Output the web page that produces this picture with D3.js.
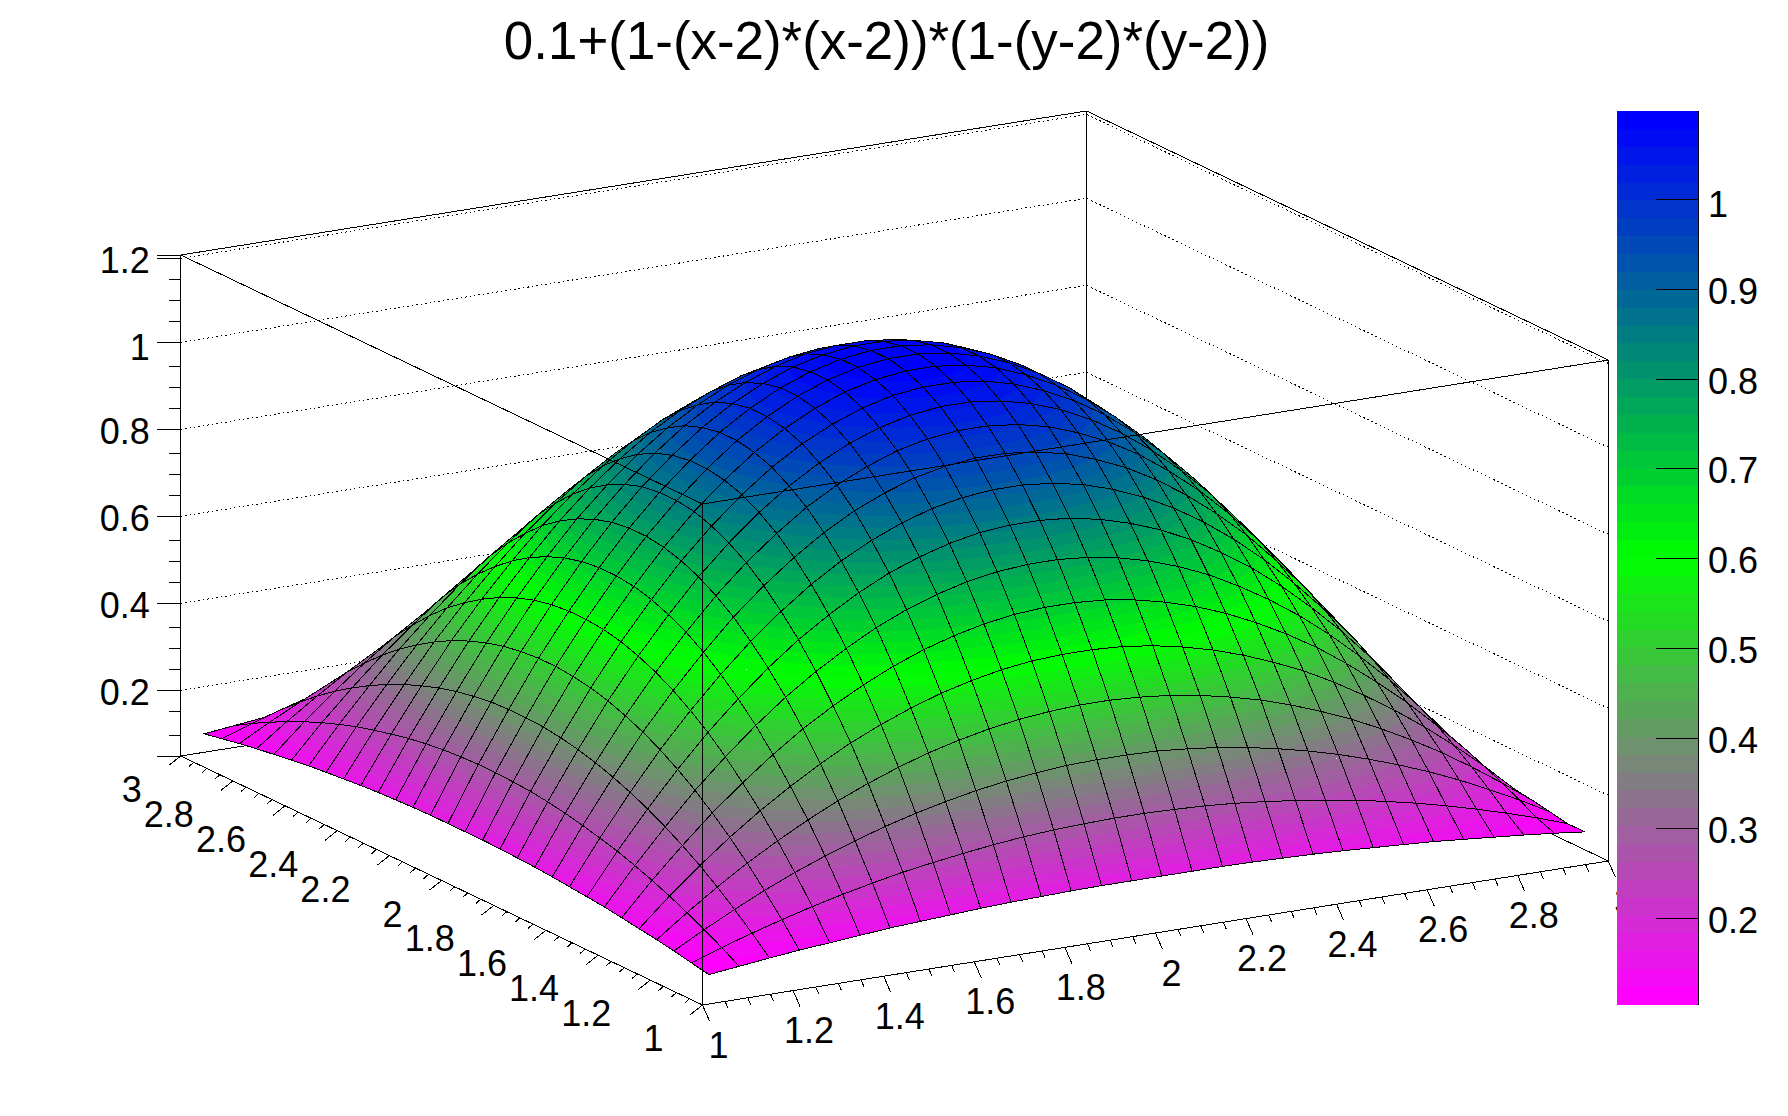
<!DOCTYPE html>
<html>
<head>
<meta charset="utf-8">
<script src="https://d3js.org/d3.v7.min.js"></script>
<style>
  html, body { margin: 0; padding: 0; background: #fff; }
  svg { display: block; }
  text { font-family: "Liberation Sans", Arial, sans-serif; fill: #000; }
</style>
</head>
<body>
<svg id="chart" width="1788" height="1116"></svg>
<script>
var titleText = "0.1+(1-(x-2)*(x-2))*(1-(y-2)*(y-2))";

// surface nodes, read per bin
var xCenters = [1.033, 1.1, 1.167, 1.233, 1.3, 1.367, 1.433, 1.5, 1.567, 1.633, 1.7, 1.767, 1.833, 1.9, 1.967,
                2.033, 2.1, 2.167, 2.233, 2.3, 2.367, 2.433, 2.5, 2.567, 2.633, 2.7, 2.767, 2.833, 2.9, 2.967];
var yCenters = xCenters.slice();

// one row per yCenters entry, one column per xCenters entry
var zRows = [
  [.104,.112,.120,.127,.133,.139,.145,.149,.153,.157,.160,.162,.164,.165,.165,.165,.165,.165,.164,.162,.160,.157,.153,.149,.145,.139,.133,.127,.120,.112],
  [.112,.136,.158,.178,.197,.214,.229,.243,.254,.264,.273,.280,.285,.288,.290,.290,.288,.285,.280,.273,.264,.254,.243,.229,.214,.197,.178,.158,.136,.112],
  [.120,.158,.193,.226,.256,.283,.307,.329,.348,.364,.378,.389,.397,.403,.405,.405,.403,.397,.389,.378,.364,.348,.329,.307,.283,.256,.226,.193,.158,.120],
  [.127,.178,.226,.270,.310,.347,.380,.409,.435,.457,.475,.490,.501,.508,.512,.512,.508,.501,.490,.475,.457,.435,.409,.380,.347,.310,.270,.226,.178,.127],
  [.133,.197,.256,.310,.360,.405,.446,.483,.514,.541,.564,.582,.596,.605,.609,.609,.605,.596,.582,.564,.541,.514,.483,.446,.405,.360,.310,.256,.197,.133],
  [.139,.214,.283,.347,.405,.459,.507,.549,.586,.618,.645,.666,.682,.693,.698,.698,.693,.682,.666,.645,.618,.586,.549,.507,.459,.405,.347,.283,.214,.139],
  [.145,.229,.307,.380,.446,.507,.561,.609,.651,.688,.718,.742,.760,.772,.778,.778,.772,.760,.742,.718,.688,.651,.609,.561,.507,.446,.380,.307,.229,.145],
  [.149,.243,.329,.409,.483,.549,.609,.663,.709,.749,.783,.809,.829,.843,.849,.849,.843,.829,.809,.783,.749,.709,.663,.609,.549,.483,.409,.329,.243,.149],
  [.153,.254,.348,.435,.514,.586,.651,.709,.760,.803,.839,.868,.890,.904,.911,.911,.904,.890,.868,.839,.803,.760,.709,.651,.586,.514,.435,.348,.254,.153],
  [.157,.264,.364,.457,.541,.618,.688,.749,.803,.849,.888,.918,.942,.957,.965,.965,.957,.942,.918,.888,.849,.803,.749,.688,.618,.541,.457,.364,.264,.157],
  [.160,.273,.378,.475,.564,.645,.718,.783,.839,.888,.928,.960,.985,1.001,1.009,1.009,1.001,.985,.960,.928,.888,.839,.783,.718,.645,.564,.475,.378,.273,.160],
  [.162,.280,.389,.490,.582,.666,.742,.809,.868,.918,.960,.994,1.019,1.036,1.045,1.045,1.036,1.019,.994,.960,.918,.868,.809,.742,.666,.582,.490,.389,.280,.162],
  [.164,.285,.397,.501,.596,.682,.760,.829,.890,.942,.985,1.019,1.045,1.063,1.071,1.071,1.063,1.045,1.019,.985,.942,.890,.829,.760,.682,.596,.501,.397,.285,.164],
  [.165,.288,.403,.508,.605,.693,.772,.843,.904,.957,1.001,1.036,1.063,1.080,1.089,1.089,1.080,1.063,1.036,1.001,.957,.904,.843,.772,.693,.605,.508,.403,.288,.165],
  [.165,.290,.405,.512,.609,.698,.778,.849,.911,.965,1.009,1.045,1.071,1.089,1.098,1.098,1.089,1.071,1.045,1.009,.965,.911,.849,.778,.698,.609,.512,.405,.290,.165],
  [.165,.290,.405,.512,.609,.698,.778,.849,.911,.965,1.009,1.045,1.071,1.089,1.098,1.098,1.089,1.071,1.045,1.009,.965,.911,.849,.778,.698,.609,.512,.405,.290,.165],
  [.165,.288,.403,.508,.605,.693,.772,.843,.904,.957,1.001,1.036,1.063,1.080,1.089,1.089,1.080,1.063,1.036,1.001,.957,.904,.843,.772,.693,.605,.508,.403,.288,.165],
  [.164,.285,.397,.501,.596,.682,.760,.829,.890,.942,.985,1.019,1.045,1.063,1.071,1.071,1.063,1.045,1.019,.985,.942,.890,.829,.760,.682,.596,.501,.397,.285,.164],
  [.162,.280,.389,.490,.582,.666,.742,.809,.868,.918,.960,.994,1.019,1.036,1.045,1.045,1.036,1.019,.994,.960,.918,.868,.809,.742,.666,.582,.490,.389,.280,.162],
  [.160,.273,.378,.475,.564,.645,.718,.783,.839,.888,.928,.960,.985,1.001,1.009,1.009,1.001,.985,.960,.928,.888,.839,.783,.718,.645,.564,.475,.378,.273,.160],
  [.157,.264,.364,.457,.541,.618,.688,.749,.803,.849,.888,.918,.942,.957,.965,.965,.957,.942,.918,.888,.849,.803,.749,.688,.618,.541,.457,.364,.264,.157],
  [.153,.254,.348,.435,.514,.586,.651,.709,.760,.803,.839,.868,.890,.904,.911,.911,.904,.890,.868,.839,.803,.760,.709,.651,.586,.514,.435,.348,.254,.153],
  [.149,.243,.329,.409,.483,.549,.609,.663,.709,.749,.783,.809,.829,.843,.849,.849,.843,.829,.809,.783,.749,.709,.663,.609,.549,.483,.409,.329,.243,.149],
  [.145,.229,.307,.380,.446,.507,.561,.609,.651,.688,.718,.742,.760,.772,.778,.778,.772,.760,.742,.718,.688,.651,.609,.561,.507,.446,.380,.307,.229,.145],
  [.139,.214,.283,.347,.405,.459,.507,.549,.586,.618,.645,.666,.682,.693,.698,.698,.693,.682,.666,.645,.618,.586,.549,.507,.459,.405,.347,.283,.214,.139],
  [.133,.197,.256,.310,.360,.405,.446,.483,.514,.541,.564,.582,.596,.605,.609,.609,.605,.596,.582,.564,.541,.514,.483,.446,.405,.360,.310,.256,.197,.133],
  [.127,.178,.226,.270,.310,.347,.380,.409,.435,.457,.475,.490,.501,.508,.512,.512,.508,.501,.490,.475,.457,.435,.409,.380,.347,.310,.270,.226,.178,.127],
  [.120,.158,.193,.226,.256,.283,.307,.329,.348,.364,.378,.389,.397,.403,.405,.405,.403,.397,.389,.378,.364,.348,.329,.307,.283,.256,.226,.193,.158,.120],
  [.112,.136,.158,.178,.197,.214,.229,.243,.254,.264,.273,.280,.285,.288,.290,.290,.288,.285,.280,.273,.264,.254,.243,.229,.214,.197,.178,.158,.136,.112],
  [.104,.112,.120,.127,.133,.139,.145,.149,.153,.157,.160,.162,.164,.165,.165,.165,.165,.165,.164,.162,.160,.157,.153,.149,.145,.139,.133,.127,.120,.112]
];

var xMajorTicks = [1, 1.2, 1.4, 1.6, 1.8, 2, 2.2, 2.4, 2.6, 2.8, 3];
var xTickLabels = ["1", "1.2", "1.4", "1.6", "1.8", "2", "2.2", "2.4", "2.6", "2.8", "3"];
var xMinorTicks = [1.05, 1.1, 1.15, 1.25, 1.3, 1.35, 1.45, 1.5, 1.55, 1.65, 1.7, 1.75, 1.85, 1.9, 1.95,
                   2.05, 2.1, 2.15, 2.25, 2.3, 2.35, 2.45, 2.5, 2.55, 2.65, 2.7, 2.75, 2.85, 2.9, 2.95];

// the picture puts the top tick a little under 1.2, and the minor ticks are not evenly spaced
var zMajorTicks = [0.2, 0.4, 0.6, 0.8, 1, 1.193];
var zTickLabels = ["0.2", "0.4", "0.6", "0.8", "1", "1.2"];
var zMinorTicks = [0.097, 0.152, 0.248, 0.297, 0.345, 0.448, 0.497, 0.545, 0.648, 0.697, 0.745,
                   0.848, 0.897, 0.945, 1.048, 1.097, 1.145];

var paletteStops = [0, 0.5, 1];
var paletteColors = ["#ff00ff", "#00ff00", "#0000ff"];
var contourCount = 50;
var barTicks = [0.2, 0.3, 0.4, 0.5, 0.6, 0.7, 0.8, 0.9, 1];
var barTickLabels = ["0.2", "0.3", "0.4", "0.5", "0.6", "0.7", "0.8", "0.9", "1"];

// box corners on the page: F front, L left, R right, all on the floor
var cornerF = [702.5, 1005];
var cornerL = [180.7, 756];
var cornerR = [1608.3, 861];
var boxHeight = 501;
var zFloor = 0.049;
var zRoof = 1.2007;

var svg = d3.select("#chart");
var ink = "#000";
var labelSize = 36;

var uScale = d3.scaleLinear().domain([1, 3]).range([0, 1]);
var vScale = d3.scaleLinear().domain([1, 3]).range([0, 1]);
var hScale = d3.scaleLinear().domain([zFloor, zRoof]).range([0, boxHeight]);

function project(x, y, z) {
  var u = uScale(x), v = vScale(y);
  return [
    cornerF[0] + u * (cornerR[0] - cornerF[0]) + v * (cornerL[0] - cornerF[0]),
    cornerF[1] + u * (cornerR[1] - cornerF[1]) + v * (cornerL[1] - cornerF[1]) - hScale(z)
  ];
}

var pathLine = d3.line();

function drawSegment(g, a, b) {
  return g.append("path")
    .attr("d", pathLine([a, b]))
    .attr("fill", "none")
    .attr("stroke", ink)
    .attr("stroke-width", 1)
    .attr("shape-rendering", "crispEdges");
}

// keep the part of a polygon on one side of a level
function clipPolygon(poly, level, keepAbove) {
  var out = [];
  for (var i = 0; i < poly.length; i++) {
    var a = poly[i], b = poly[(i + 1) % poly.length];
    var aIn = keepAbove ? a[2] >= level : a[2] <= level;
    var bIn = keepAbove ? b[2] >= level : b[2] <= level;
    if (aIn) {
      out.push(a);
    }
    if (aIn != bIn) {
      var t = (level - a[2]) / (b[2] - a[2]);
      out.push([a[0] + t * (b[0] - a[0]), a[1] + t * (b[1] - a[1]), level]);
    }
  }
  return out;
}

// the label "1" sits a bit lower than the others in the picture
function labelDrop(d) {
  return d === 1 ? 18 : 14.5;
}

var zLow = d3.min(zRows, function(r) { return d3.min(r); });
var zHigh = d3.max(zRows, function(r) { return d3.max(r); });
var bandHeight = (zHigh - zLow) / contourCount;

var paletteScale = d3.scaleLinear().domain(paletteStops).range(paletteColors).interpolate(d3.interpolateRgb);
var bandIndexes = d3.range(contourCount);
var bandColors = bandIndexes.map(function(k) { return paletteScale(k / (contourCount - 1)); });

/*
Back of the box first, then the surface from the far corner to the near one,
then the front edges on top of it.
*/
function drawBackWalls() {
  var g = svg.append("g");
  zMajorTicks.forEach(function(z) {
    g.append("path")
      .attr("d", pathLine([project(1, 3, z), project(3, 3, z), project(3, 1, z)]))
      .attr("fill", "none")
      .attr("stroke", ink)
      .attr("stroke-width", 1)
      .attr("stroke-dasharray", "1.5 3")
      .attr("shape-rendering", "crispEdges");
  });
  drawSegment(g, project(1, 3, zFloor), project(3, 3, zFloor));
  drawSegment(g, project(3, 1, zFloor), project(3, 3, zFloor));
  drawSegment(g, project(3, 3, zFloor), project(3, 3, zRoof));
  drawSegment(g, project(1, 3, zRoof), project(3, 3, zRoof));
  drawSegment(g, project(3, 1, zRoof), project(3, 3, zRoof));
  drawSegment(g, project(3, 1, zFloor), project(3, 1, zRoof));
}

function drawSurface() {
  var g = svg.append("g");
  for (var ix = xCenters.length - 2; ix >= 0; ix--) {
    for (var iy = yCenters.length - 2; iy >= 0; iy--) {
      var cell = [
        [xCenters[ix], yCenters[iy], zRows[iy][ix]],
        [xCenters[ix + 1], yCenters[iy], zRows[iy][ix + 1]],
        [xCenters[ix + 1], yCenters[iy + 1], zRows[iy + 1][ix + 1]],
        [xCenters[ix], yCenters[iy + 1], zRows[iy + 1][ix]]
      ];
      bandIndexes.forEach(function(k) {
        var piece = clipPolygon(cell, zLow + k * bandHeight, true);
        if (k < contourCount - 1 && piece.length) {
          piece = clipPolygon(piece, zLow + (k + 1) * bandHeight, false);
        }
        if (piece.length < 3) {
          return;
        }
        var outline = piece.map(function(p) { return project(p[0], p[1], p[2]); });
        g.append("path")
          .attr("d", pathLine(outline) + "Z")
          .attr("fill", bandColors[k])
          .attr("stroke", "none")
          .attr("shape-rendering", "crispEdges");
      });
      var border = cell.map(function(p) { return project(p[0], p[1], p[2]); });
      g.append("path")
        .attr("d", pathLine(border) + "Z")
        .attr("fill", "none")
        .attr("stroke", ink)
        .attr("stroke-width", 1)
        .attr("shape-rendering", "crispEdges");
    }
  }
}

function drawFrontEdges() {
  var g = svg.append("g");
  drawSegment(g, project(1, 1, zFloor), project(1, 1, zRoof));
  drawSegment(g, project(1, 1, zRoof), project(1, 3, zRoof));
  drawSegment(g, project(1, 1, zRoof), project(3, 1, zRoof));
  drawSegment(g, project(1, 1, zFloor), project(3, 1, zFloor));
  drawSegment(g, project(1, 1, zFloor), project(1, 3, zFloor));
}

function drawFloorAxes() {
  var g = svg.append("g");

  xMajorTicks.forEach(function(t, i) {
    var p = project(t, 1, zFloor);
    drawSegment(g, p, [p[0] + 7, p[1] + 16]);
    g.append("text")
      .attr("x", p[0] + 16)
      .attr("y", p[1] + 52.5)
      .attr("text-anchor", "middle")
      .attr("font-size", labelSize)
      .text(xTickLabels[i]);
  });
  xMinorTicks.forEach(function(t) {
    var p = project(t, 1, zFloor);
    drawSegment(g, p, [p[0] + 3, p[1] + 7]);
  });

  xMajorTicks.forEach(function(t, i) {
    var p = project(1, t, zFloor);
    drawSegment(g, p, [p[0] - 12, p[1] + 9.5]);
    g.append("text")
      .attr("x", p[0] - 39)
      .attr("y", p[1] + 46)
      .attr("text-anchor", "end")
      .attr("font-size", labelSize)
      .text(xTickLabels[i]);
  });
  xMinorTicks.forEach(function(t) {
    var p = project(1, t, zFloor);
    drawSegment(g, p, [p[0] - 5, p[1] + 4.5]);
  });
}

function drawHeightAxis() {
  var base = project(1, 3, zFloor);
  var yScale = d3.scaleLinear().domain([zFloor, zRoof]).range([base[1], base[1] - boxHeight]);

  var major = svg.append("g")
    .attr("transform", "translate(" + base[0] + ",0)")
    .call(d3.axisLeft(yScale)
      .offset(0)
      .tickValues(zMajorTicks)
      .tickSize(24)
      .tickPadding(7)
      .tickFormat(function(d, i) { return zTickLabels[i]; }));
  major.select(".domain").attr("stroke", ink).attr("shape-rendering", "crispEdges");
  major.selectAll(".tick line").attr("stroke", ink).attr("shape-rendering", "crispEdges");
  major.selectAll(".tick text")
    .attr("font-size", labelSize)
    .attr("font-family", '"Liberation Sans", Arial, sans-serif')
    .attr("fill", ink)
    .attr("dy", labelDrop);

  var minor = svg.append("g")
    .attr("transform", "translate(" + base[0] + ",0)")
    .call(d3.axisLeft(yScale).offset(0).tickValues(zMinorTicks).tickSize(12).tickFormat(""));
  minor.select(".domain").remove();
  minor.selectAll(".tick line").attr("stroke", ink).attr("shape-rendering", "crispEdges");
}

function drawColorBar() {
  var barLeft = 1617, barRight = 1698, barTop = 111, barBottom = 1005;
  var g = svg.append("g");
  var bandScale = d3.scaleBand().domain(bandIndexes).range([barBottom, barTop]);

  g.selectAll("rect")
    .data(bandIndexes)
    .enter().append("rect")
    .attr("x", barLeft)
    .attr("y", function(k) { return bandScale(k); })
    .attr("width", barRight - barLeft)
    .attr("height", bandScale.bandwidth())
    .attr("fill", function(k) { return bandColors[k]; })
    .attr("shape-rendering", "crispEdges");

  var barScale = d3.scaleLinear().domain([zLow, zHigh]).range([barBottom, barTop]);
  var axis = g.append("g")
    .attr("transform", "translate(" + barRight + ",0)")
    .call(d3.axisRight(barScale)
      .offset(0)
      .tickValues(barTicks)
      .tickSize(0)
      .tickPadding(10)
      .tickFormat(function(d, i) { return barTickLabels[i]; }));
  axis.select(".domain").attr("stroke", ink).attr("shape-rendering", "crispEdges");
  axis.selectAll(".tick line")
    .attr("x2", -42)
    .attr("stroke", ink)
    .attr("shape-rendering", "crispEdges");
  axis.selectAll(".tick text")
    .attr("font-size", labelSize)
    .attr("font-family", '"Liberation Sans", Arial, sans-serif')
    .attr("fill", ink)
    .attr("dy", labelDrop);
}

function drawTitle() {
  svg.append("text")
    .attr("x", 886.6)
    .attr("y", 59)
    .attr("text-anchor", "middle")
    .attr("font-size", 52.9)
    .text(titleText);
}

drawBackWalls();
drawSurface();
drawFrontEdges();
drawFloorAxes();
drawHeightAxis();
drawColorBar();
drawTitle();
</script>
</body>
</html>
